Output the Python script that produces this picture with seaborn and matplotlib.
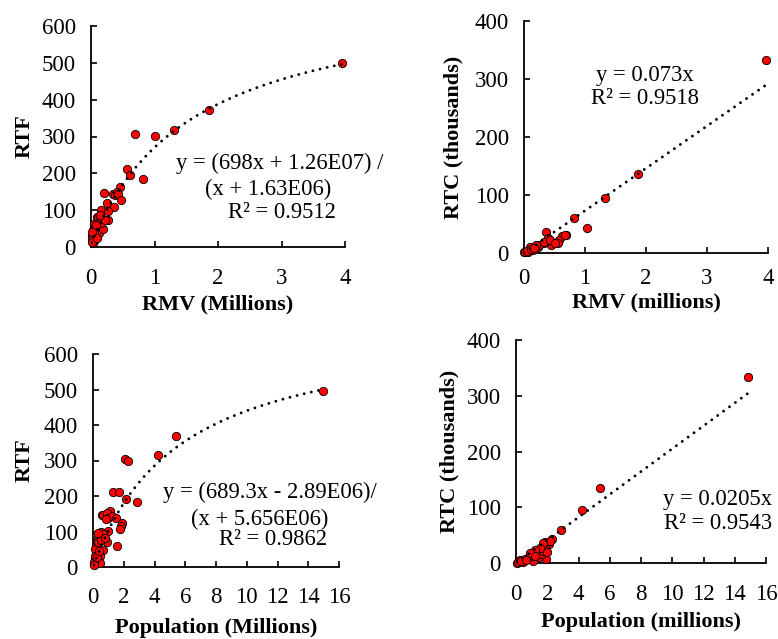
import numpy as np
import pandas as pd
import matplotlib
matplotlib.use("Agg")
import matplotlib.pyplot as plt
import seaborn as sns

# ---- RTF vs RMV (millions) ----
rmv_a = [3.96, 1.86, 1.31, 1.00, 0.69, 0.57, 0.62, 0.82, 0.45, 0.20, 0.34, 0.38,
         0.41, 0.43, 0.47, 0.25, 0.37, 0.15, 0.26, 0.27, 0.09, 0.11, 0.16, 0.13,
         0.05, 0.11, 0.10, 0.03, 0.07, 0.02, 0.05, 0.01, 0.03, 0.01, 0.12, 0.19,
         0.16, 0.22, 0.06, 0.08, 0.04, 0.14, 0.02, 0.09]
rtf_a = [500, 372, 318, 302, 306, 212, 195, 185, 164, 147, 145, 140,
         150, 145, 128, 119, 108, 100, 97, 72, 82, 78, 78, 68,
         62, 54, 44, 46, 30, 30, 17, 22, 10, 13, 39, 50,
         65, 72, 55, 60, 38, 88, 40, 25]

# ---- RTC (thousands) vs RMV (millions) ----
rmv_b = [3.96, 1.87, 1.33, 0.82, 1.03, 0.36, 0.69, 0.62, 0.57, 0.56, 0.46, 0.45,
         0.38, 0.40, 0.33, 0.20, 0.22, 0.00, 0.02, 0.10, 0.13, 0.23, 0.25, 0.32,
         0.43, 0.50, 0.67, 0.07, 0.15, 0.10, 0.20, 0.05, 0.12, 0.17]
rtc_b = [333, 136, 95, 61, 43, 36, 31, 29, 22, 18, 15, 13,
         20, 25, 17, 10, 12, 1, 1, 5, 8, 10, 14, 19.5,
         22, 17, 31, 2, 5, 10, 13, 4, 7, 9]

# ---- RTF vs Population (millions) ----
pop_c = [14.94, 5.40, 4.20, 2.08, 2.30, 2.84, 2.14, 1.28, 1.71, 0.57, 0.67, 1.11,
         0.89, 1.00, 1.26, 1.48, 0.84, 1.87, 1.80, 1.76, 0.52, 1.00, 0.67, 0.35,
         0.89, 1.58, 0.67, 0.44, 0.46, 0.20, 0.24, 0.15, 0.05, 0.15, 0.35, 0.55,
         0.80, 0.30, 0.10, 0.25, 0.05, 0.40]
rtf_c = [496, 368, 315, 303, 300, 182, 191, 210, 210, 146, 146, 158,
         152, 137, 144, 139, 135, 125, 116, 106, 99, 101, 93, 81,
         71, 59, 48, 30, 10, 60, 39, 25, 15, 50, 70, 75,
         83, 95, 30, 28, 5, 45]

# ---- RTC (thousands) vs Population (millions) ----
pop_d = [14.87, 5.38, 4.20, 2.88, 2.28, 2.11, 1.79, 1.70, 1.92, 1.10, 0.05, 0.15,
         0.47, 0.26, 0.58, 0.80, 1.00, 1.32, 1.45, 1.64, 1.75, 1.86, 1.96, 1.86,
         2.18, 1.75, 1.55, 1.22, 0.90, 0.35, 0.65, 1.20]
rtc_d = [334, 135, 94.5, 60, 43, 34, 36, 25, 7, 4, 0.5, 1,
         2.5, 5, 8, 11, 14, 17, 11, 17, 22, 32, 20, 38,
         40, 35, 27, 23, 18, 3, 6, 12]

# Trendline equations printed on each panel
eq_a = ["y = (698x + 1.26E07) /", "(x + 1.63E06)", "R\u00b2 = 0.9512"]
eq_b = ["y = 0.073x", "R\u00b2 = 0.9518"]
eq_c = ["y = (689.3x - 2.89E06)/", "(x + 5.656E06)", "R\u00b2 = 0.9862"]
eq_d = ["y = 0.0205x", "R\u00b2 = 0.9543"]

sns.set_theme(style="white")
plt.rcParams["font.family"] = ["Liberation Serif", "DejaVu Serif"]

fig = plt.figure(figsize=(7.78, 6.39), dpi=100)
W, H = 778, 639


def add_axes(x0, x1, y0, y1):
    return fig.add_axes([x0 / W, 1 - y1 / H, (x1 - x0) / W, (y1 - y0) / H])


ax1 = add_axes(91, 345, 26, 247)
ax2 = add_axes(524, 768, 21, 253)
ax3 = add_axes(93, 339, 354, 567)
ax4 = add_axes(516, 766, 340, 563)

FS = 16.3
TFS = 16.5
LFS = 16


def style(ax, xmax, xstep, ymax, ystep, xlabel, ylabel, xl_y, yl_x, xpad):
    ax.set_xlim(0, xmax)
    ax.set_ylim(0, ymax)
    xt = np.arange(0, xmax + 0.001, xstep)
    ax.set_xticks(xt)
    ax.set_xticklabels([f"{v:g}" for v in xt])
    ax.set_yticks(np.arange(0, ymax + 0.001, ystep))
    for s in ["top", "right"]:
        ax.spines[s].set_visible(False)
    for s in ["left", "bottom"]:
        ax.spines[s].set_color("black")
        ax.spines[s].set_linewidth(1.3)
    ax.tick_params(axis="both", direction="in", length=4, width=1.2,
                   colors="black", labelsize=TFS)
    ax.tick_params(axis="x", pad=xpad, bottom=True)
    ax.tick_params(axis="y", pad=11, left=True)
    ax.set_xlabel(xlabel, fontsize=LFS, fontweight="bold", color="black")
    ax.set_ylabel(ylabel, fontsize=LFS, fontweight="bold", color="black")
    ax.xaxis.label.set_va("center")
    ax.yaxis.label.set_va("center")
    ax.xaxis.set_label_coords(0.5, xl_y)
    ax.yaxis.set_label_coords(yl_x, 0.5)
    ax.grid(False)


def scatter(ax, x, y):
    df = pd.DataFrame({"x": x, "y": y})
    sns.scatterplot(data=df, x="x", y="y", ax=ax, color="#ff0000",
                    edgecolor="black", linewidth=0.6, s=36, zorder=3,
                    clip_on=False, legend=False)


def trend(ax, xs, ys):
    df = pd.DataFrame({"x": xs, "y": ys})
    sns.lineplot(data=df, x="x", y="y", ax=ax, color="black", lw=2.1,
                 linestyle=(0, (0.01, 2.5)), dash_capstyle="round",
                 zorder=4, legend=False)


def rational(x_m, a, b, c):
    x = np.asarray(x_m) * 1e6
    return (a * x + b) / (x + c)


# Panel A
scatter(ax1, rmv_a, rtf_a)
xa = np.linspace(min(rmv_a), max(rmv_a), 200)
trend(ax1, xa, rational(xa, 698, 1.26e7, 1.63e6))
style(ax1, 4, 1, 600, 100, "RMV (Millions)", "RTF", -0.258, -0.26, 15)

# Panel B
scatter(ax2, rmv_b, rtc_b)
xb = np.linspace(min(rmv_b), max(rmv_b), 200)
trend(ax2, xb, 0.073 * xb * 1e3)
style(ax2, 4, 1, 400, 100, "RMV (millions)", "RTC (thousands)", -0.215, -0.291, 10.5)

# Panel C
scatter(ax3, pop_c, rtf_c)
xc = np.linspace(min(pop_c), max(pop_c), 300)
trend(ax3, xc, rational(xc, 689.3, -2.89e6, 5.656e6))
style(ax3, 16, 2, 600, 100, "Population (Millions)", "RTF", -0.286, -0.278, 14.5)

# Panel D
scatter(ax4, pop_d, rtc_d)
xd = np.linspace(min(pop_d), max(pop_d), 200)
trend(ax4, xd, 0.0205 * xd * 1e3)
style(ax4, 16, 2, 400, 100, "Population (millions)", "RTC (thousands)", -0.265, -0.268, 15)


def eq(ax, lines, pos):
    for txt, (x, y) in zip(lines, pos):
        ax.text(x, y, txt, transform=ax.transAxes, ha="center", va="center",
                fontsize=FS, color="black", zorder=5)


eq(ax1, eq_a, [(0.744, 0.380), (0.697, 0.262), (0.752, 0.158)])
eq(ax2, eq_b, [(0.496, 0.767), (0.496, 0.668)])
eq(ax3, eq_c, [(0.720, 0.352), (0.679, 0.225), (0.732, 0.127)])
eq(ax4, eq_d, [(0.808, 0.283), (0.808, 0.179)])

fig.savefig("out.png", dpi=100, facecolor="white")
